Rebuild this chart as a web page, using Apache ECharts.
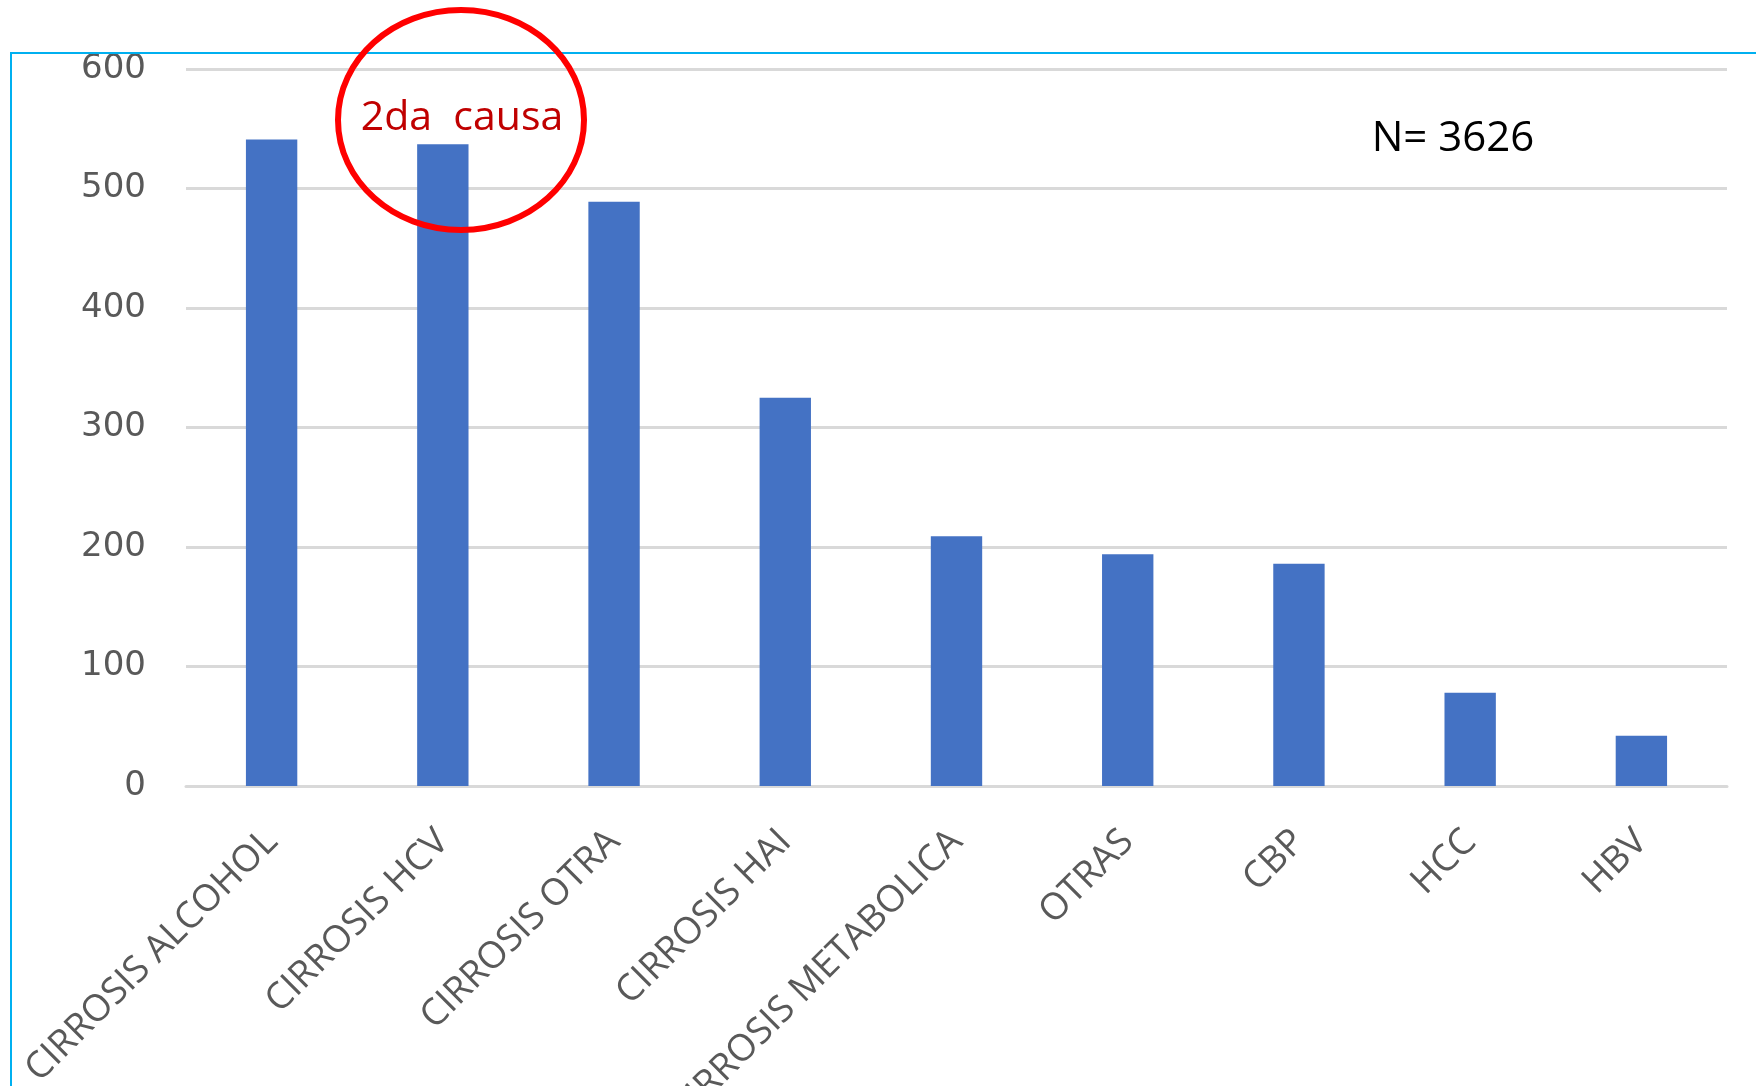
<!DOCTYPE html>
<html>
<head>
<meta charset="utf-8">
<script src="https://cdn.jsdelivr.net/npm/echarts@6/dist/echarts.min.js"></script>
<style>
html,body{margin:0;padding:0;background:#fff;}
#chart{width:1756px;height:1086px;}
</style>
</head>
<body>
<div id="chart"></div>
<script>
const categories = ["CIRROSIS ALCOHOL","CIRROSIS HCV","CIRROSIS OTRA","CIRROSIS HAI","CIRROSIS METABOLICA","OTRAS","CBP","HCC","HBV"];
const values = [541, 537, 489, 325, 209, 194, 186, 78, 42];
const yTicks = [0, 100, 200, 300, 400, 500, 600];
const annotationText = "2da  causa";
const totalText = "N= 3626";

const chart = echarts.init(document.getElementById('chart'), null, {renderer:'canvas'});
chart.setOption({
  animation: false,
  backgroundColor: '#ffffff',
  grid: {left: 186, right: 29, top: 69, bottom: 300, containLabel: false, outerBoundsMode: 'none'},
  xAxis: {
    type: 'category',
    data: categories,
    axisLine: {show: true, lineStyle: {color: '#D9D9D9', width: 3}},
    axisTick: {show: false},
    axisLabel: {
      rotate: 45,
      interval: 0,
      margin: 50,
      color: '#595959',
      fontFamily: 'Open Sans',
      fontSize: 37
    }
  },
  yAxis: {
    type: 'value',
    min: yTicks[0],
    max: yTicks[yTicks.length - 1],
    interval: 100,
    axisLine: {show: false},
    axisTick: {show: false},
    splitLine: {lineStyle: {color: '#D9D9D9', width: 3}},
    axisLabel: {
      margin: 40,
      color: '#595959',
      fontFamily: 'DejaVu Sans',
      fontSize: 34,
      padding: [7, 0, 0, 0]
    }
  },
  series: [{
    type: 'bar',
    data: values,
    barWidth: '30%',
    itemStyle: {color: '#4472C4'}
  }],
  graphic: [
    {
      type: 'rect',
      shape: {x: 11, y: 53, width: 1800, height: 1100},
      style: {fill: 'none', stroke: '#00B0F0', lineWidth: 2},
      z: 100
    },
    {
      type: 'ellipse',
      shape: {cx: 461, cy: 120, rx: 123, ry: 110},
      style: {fill: 'none', stroke: '#FF0000', lineWidth: 6},
      z: 101
    },
    {
      type: 'text',
      x: 462, y: 118,
      style: {
        text: annotationText,
        fill: '#C00000',
        font: '41px "Open Sans"',
        textAlign: 'center',
        textVerticalAlign: 'middle'
      },
      z: 102
    },
    {
      type: 'text',
      x: 1453, y: 139,
      style: {
        text: totalText,
        fill: '#000000',
        font: '42px "Open Sans"',
        textAlign: 'center',
        textVerticalAlign: 'middle'
      },
      z: 102
    }
  ]
});
</script>
</body>
</html>
